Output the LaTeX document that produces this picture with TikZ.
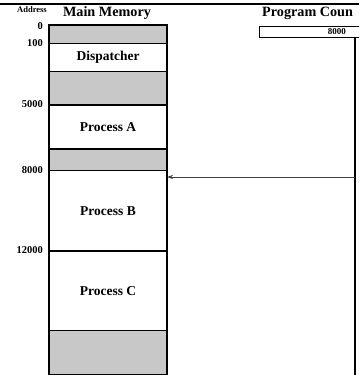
\documentclass[tikz,border=0pt]{standalone}
\usepackage{fontspec}
\setmainfont{Liberation Serif}
\usetikzlibrary{arrows.meta}
\definecolor{memgray}{RGB}{200,200,200}
\begin{document}
\begin{tikzpicture}[x=1pt,y=-1pt,
  region/.style={draw=black, line width=1.3pt, inner sep=0pt, anchor=north west,
    minimum width=116.7pt, font=\fontsize{13.5}{14}\selectfont\bfseries},
  free/.style={region, fill=memgray},
  addr/.style={anchor=east, inner sep=0pt, font=\fontsize{10.5}{11}\selectfont\bfseries},
  title/.style={inner sep=0pt, font=\fontsize{14.2}{15}\selectfont\bfseries}]
\useasboundingbox (0,0) rectangle (359,375);
\clip (0,0) rectangle (359,375);
% top rule
\draw[line width=2pt] (0,4) -- (359,4);
% memory regions
\node[free,   minimum height=17.7pt] (r0)   at (49,25)    {};
\node[region, minimum height=28.3pt] (disp) at (49,42.7)  {Dispatcher};
\node[free,   minimum height=33.3pt] (r2)   at (49,71)    {};
\node[region, minimum height=44pt]   (pa)   at (49,104.3) {Process A};
\node[free,   minimum height=21.7pt] (r4)   at (49,148.3) {};
\node[region, minimum height=80.3pt] (pb)   at (49,170)   {Process B};
\node[region, minimum height=79.7pt] (pc)   at (49,250.3) {Process C};
\node[free,   minimum height=43.5pt] (r7)   at (49,330)   {};
\draw[line width=1.8pt] (r0.north west) rectangle (r7.south east);
% headings
\node[inner sep=0pt, font=\fontsize{8.5}{9}\selectfont\bfseries] (addrhead) at (32,10) {Address};
\node[title] (mmhead) at (107,13) {Main Memory};
\node[title, anchor=west] (pchead) at (262,13) {Program Coun};
% addresses
\node[addr] (a0)     at (43,26.5)  {0};
\node[addr] (a100)   at (43,43)    {100};
\node[addr] (a5000)  at (43,104.3) {5000};
\node[addr] (a8000)  at (43,170)   {8000};
\node[addr] (a12000) at (43,250.3) {12000};
% program counter
\node[draw=black, line width=1.2pt, inner sep=0pt, anchor=north west,
  minimum width=120pt, minimum height=11pt] (pcbox) at (259,26) {};
\node[anchor=east, inner sep=0pt, font=\fontsize{9}{9}\selectfont\bfseries] (pcval) at (346,31.5) {8000};
% processor edge
\coordinate (ptop) at (355,37);
\coordinate (pbot) at (355,376);
\draw[line width=2pt] (ptop) -- (pbot);
% pointer
\coordinate (src) at (355,177);
\draw[line width=0.8pt, draw=black!75, -{Stealth[length=6pt,width=4pt]}] (src) -- (src -| pb.east);
\end{tikzpicture}
\end{document}
